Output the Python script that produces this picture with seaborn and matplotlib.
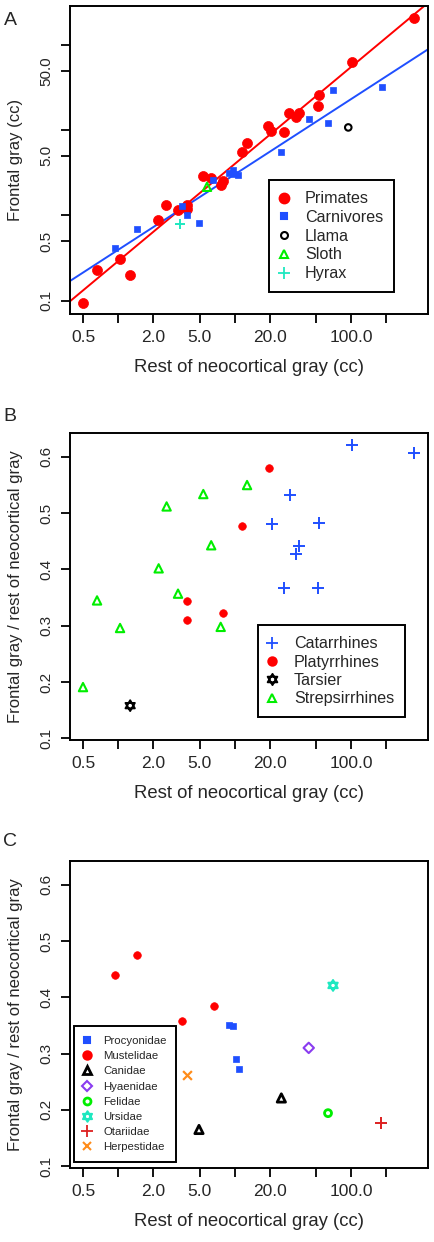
import numpy as np
import pandas as pd
import matplotlib
matplotlib.use("Agg")
import matplotlib.pyplot as plt
import matplotlib.lines as mlines
from matplotlib.path import Path
import seaborn as sns

# ---------------- data ----------------
# Panel A: frontal gray vs rest of neocortical gray (cc)
primates_rest = [349, 101, 53.4, 52.3, 36.0, 33.7, 29.5, 19.5, 20.6, 26.6, 12.8, 11.6, 5.39,
                 6.3, 7.9, 7.6, 2.58, 2.22, 3.25, 3.93, 3.93, 1.04, 0.66, 1.27, 0.50]
primates_frontal = [209, 62.8, 25.7, 19.3, 15.8, 14.4, 15.8, 11.3, 9.9, 9.6, 7.0, 5.56, 2.90,
                    2.73, 2.55, 2.27, 1.33, 0.89, 1.16, 1.33, 1.19, 0.305, 0.227, 0.202, 0.095]
carn_rest = [183, 69.5, 43.3, 63, 25.1, 9.75, 9.0, 10.8, 9.95, 6.56, 3.52, 3.93, 4.95, 1.45, 0.94]
carn_frontal = [32.4, 29.4, 13.4, 12.3, 5.5, 3.41, 3.18, 3.0, 3.06, 2.59, 1.29, 1.02, 0.81, 0.69, 0.415]
llama_rest, llama_frontal = [94.6], [10.8]
sloth_rest, sloth_frontal = [5.8], [2.17]
hyrax_rest, hyrax_frontal = [3.40], [0.79]

# Panel B: primates, frontal / rest ratio
cat_rest = [101, 349, 29.9, 20.8, 53.4, 36.0, 33.7, 26.6, 52.3]
cat_ratio = [0.622, 0.607, 0.532, 0.480, 0.483, 0.441, 0.427, 0.367, 0.367]
plat_rest = [19.7, 11.6, 3.93, 7.9, 3.93]
plat_ratio = [0.580, 0.477, 0.344, 0.322, 0.311]
tars_rest, tars_ratio = [1.27], [0.158]
strep_rest = [12.8, 5.39, 2.61, 6.3, 2.23, 3.27, 0.66, 1.04, 7.6, 0.5]
strep_ratio = [0.550, 0.534, 0.512, 0.443, 0.402, 0.357, 0.345, 0.296, 0.298, 0.191]

# Panel C: carnivores by family
procy_rest = [9.0, 9.75, 10.3, 10.9]
procy_ratio = [0.350, 0.349, 0.290, 0.272]
must_rest = [0.94, 1.45, 6.62, 3.52]
must_ratio = [0.439, 0.475, 0.384, 0.357]
canid_rest = [4.95, 25.2]
canid_ratio = [0.165, 0.221]
hyaen_rest, hyaen_ratio = [43.3], [0.310]
felid_rest, felid_ratio = [63.4], [0.194]
ursid_rest, ursid_ratio = [70.0], [0.421]
otar_rest, otar_ratio = [182], [0.177]
herp_rest, herp_ratio = [3.9], [0.261]

x_ticks = [0.5, 1, 2, 5, 10, 20, 50, 100, 200]
x_labels = ["0.5", "", "2.0", "5.0", "", "20.0", "", "100.0", ""]
ya_ticks = [0.1, 0.5, 1, 5, 10, 50, 100]
ya_labels = ["0.1", "0.5", "", "5.0", "", "50.0", ""]
yr_ticks = [0.1, 0.2, 0.3, 0.4, 0.5, 0.6]
yr_labels = ["0.1", "0.2", "0.3", "0.4", "0.5", "0.6"]

# ---------------- style ----------------
sns.set_theme(style="ticks")
plt.rcParams['font.family'] = ['Liberation Sans', 'DejaVu Sans']
plt.rcParams['axes.linewidth'] = 1.4

RED = "#ff0000"
BLUE = "#1f4fff"
GREEN = "#00ee00"
CYAN = "#1ee8c0"
PURPLE = "#8a3cf0"
DRED = "#dd2020"
ORANGE = "#ff8c1a"

# star of David marker (two overlapping triangles)
_v = [(0, 1), (-0.866, -0.5), (0.866, -0.5), (0, 1),
      (0, -1), (-0.866, 0.5), (0.866, 0.5), (0, -1)]
_c = [Path.MOVETO, Path.LINETO, Path.LINETO, Path.CLOSEPOLY] * 2
STAR = Path(_v, _c)

fig = plt.figure(figsize=(4.35, 12.42), dpi=100)
axA = fig.add_axes([0.1598, 0.7469, 0.823, 0.2485])
axB = fig.add_axes([0.1598, 0.4042, 0.823, 0.2474])
axC = fig.add_axes([0.1598, 0.0598, 0.823, 0.2469])


def pts(ax, x, y, color, marker, s, kind="filled", lw=1.5):
    d = pd.DataFrame({"x": x, "y": y})
    if kind == "filled":
        sns.scatterplot(data=d, x="x", y="y", ax=ax, color=color, marker=marker,
                        s=s, edgecolor=color, linewidth=0.5, zorder=3)
    elif kind == "open":
        sns.scatterplot(data=d, x="x", y="y", ax=ax, color=color, marker=marker,
                        s=s, facecolor="none", edgecolor=color, linewidth=lw, zorder=3)
    else:  # line markers such as + and x
        sns.scatterplot(data=d, x="x", y="y", ax=ax, color=color, marker=marker,
                        s=s, linewidths=lw, zorder=3)


def style_axes(ax, yticks, ylabels, ylabel):
    ax.set_xscale("log")
    ax.set_xlim(0.383, 453)
    ax.set_xticks(x_ticks)
    ax.set_xticklabels(x_labels, fontsize=12.5)
    ax.xaxis.set_minor_locator(matplotlib.ticker.NullLocator())
    ax.set_yticks(yticks)
    ax.set_yticklabels(ylabels, fontsize=11, rotation=90, va="center")
    ax.tick_params(direction="out", length=6.5, width=1.3, pad=5, color="black")
    ax.set_xlabel("Rest of neocortical gray (cc)", fontsize=13.3, labelpad=10)
    ax.set_ylabel(ylabel, fontsize=12, labelpad=12)
    for sp in ax.spines.values():
        sp.set_visible(True)
        sp.set_color("black")


def handle(color, marker, ms, filled=True, lw=1.5):
    return mlines.Line2D([], [], linestyle="none", marker=marker, markersize=ms,
                         markerfacecolor=color if filled else "none",
                         markeredgecolor=color, markeredgewidth=lw, color=color)


def fitline(ax, x, y, color):
    k, b = np.polyfit(np.log10(x), np.log10(y), 1)
    xs = np.array(ax.get_xlim())
    ax.plot(xs, 10 ** (b + k * np.log10(xs)), color=color, lw=1.4, zorder=2)


def legend(ax, handles, labels, anchor, fs, bp, hl, htp, ls):
    leg = ax.legend(handles, labels, loc="lower left", bbox_to_anchor=anchor, fontsize=fs,
                    frameon=True, fancybox=False, edgecolor="black", framealpha=1,
                    handlelength=hl, handletextpad=htp, labelspacing=ls, borderpad=bp,
                    borderaxespad=0)
    leg.get_frame().set_linewidth(1.4)
    return leg


# ---------------- panel A ----------------
axA.set_xscale("log")
axA.set_yscale("log")
pts(axA, primates_rest, primates_frontal, RED, "o", 52)
pts(axA, carn_rest, carn_frontal, BLUE, "s", 25)
pts(axA, llama_rest, llama_frontal, "black", "o", 22, kind="open")
pts(axA, sloth_rest, sloth_frontal, GREEN, "^", 36, kind="open")
pts(axA, hyrax_rest, hyrax_frontal, CYAN, "+", 55, kind="line", lw=1.4)
style_axes(axA, ya_ticks, ya_labels, "Frontal gray (cc)")
axA.set_ylim(0.069, 290)
axA.yaxis.set_minor_locator(matplotlib.ticker.NullLocator())
fitline(axA, primates_rest, primates_frontal, RED)
fitline(axA, carn_rest, carn_frontal, BLUE)
hA = [handle(RED, "o", 7), handle(BLUE, "s", 5), handle("black", "o", 5, False),
      handle(GREEN, "^", 6, False), handle(CYAN, "+", 8, lw=1.3)]
legend(axA, hA, ["Primates", "Carnivores", "Llama", "Sloth", "Hyrax"],
       (0.557, 0.072), 11.6, 0.68, 0.5, 1.05, 0.23)

# ---------------- panel B ----------------
pts(axB, cat_rest, cat_ratio, BLUE, "+", 70, kind="line", lw=1.4)
pts(axB, plat_rest, plat_ratio, RED, "o", 30)
pts(axB, tars_rest, tars_ratio, "black", STAR, 60, kind="open", lw=1.4)
pts(axB, strep_rest, strep_ratio, GREEN, "^", 36, kind="open")
style_axes(axB, yr_ticks, yr_labels, "Frontal gray / rest of neocortical gray")
axB.set_ylim(0.097, 0.643)
hB = [handle(BLUE, "+", 8, lw=1.3), handle(RED, "o", 6), handle("black", STAR, 8, False, 1.4),
      handle(GREEN, "^", 6, False)]
legend(axB, hB, ["Catarrhines", "Platyrrhines", "Tarsier", "Strepsirrhines"],
       (0.527, 0.074), 11.6, 0.68, 0.4, 1.15, 0.21)

# ---------------- panel C ----------------
pts(axC, procy_rest, procy_ratio, BLUE, "s", 25)
pts(axC, must_rest, must_ratio, RED, "o", 30)
pts(axC, canid_rest, canid_ratio, "black", "^", 36, kind="open", lw=2)
pts(axC, hyaen_rest, hyaen_ratio, PURPLE, "D", 28, kind="open")
pts(axC, felid_rest, felid_ratio, GREEN, "o", 25, kind="open", lw=2)
pts(axC, ursid_rest, ursid_ratio, CYAN, STAR, 60, kind="open", lw=1.5)
pts(axC, otar_rest, otar_ratio, DRED, "+", 70, kind="line", lw=1.4)
pts(axC, herp_rest, herp_ratio, ORANGE, "x", 40, kind="line", lw=1.6)
style_axes(axC, yr_ticks, yr_labels, "Frontal gray / rest of neocortical gray")
axC.set_ylim(0.097, 0.642)
hC = [handle(BLUE, "s", 4.5), handle(RED, "o", 6), handle("black", "^", 5.5, False, 2),
      handle(PURPLE, "D", 5, False), handle(GREEN, "o", 5, False, 2),
      handle(CYAN, STAR, 7.5, False, 1.5), handle(DRED, "+", 8, lw=1.3), handle(ORANGE, "x", 6)]
legend(axC, hC, ["Procyonidae", "Mustelidae", "Canidae", "Hyaenidae", "Felidae",
                 "Ursidae", "Otariidae", "Herpestidae"],
       (0.0126, 0.0196), 8.2, 0.85, 0.5, 1.21, 0.45)

# panel letters
for lab, ytop in [("A", 0.990), ("B", 0.6715), ("C", 0.3295)]:
    fig.text(0.008, ytop, lab, fontsize=14, va="top", ha="left")

fig.savefig("out.png", dpi=100)
